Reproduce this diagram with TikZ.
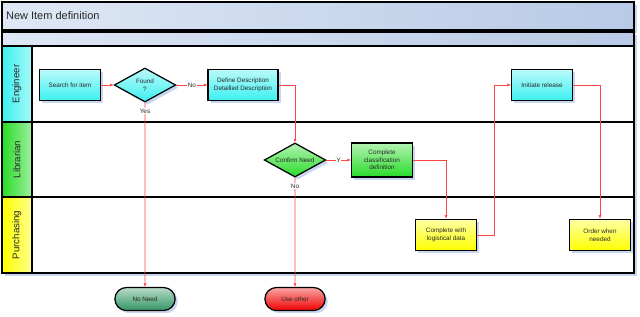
\documentclass[tikz,border=0pt]{standalone}
\usepackage{fontspec}
\setmainfont{Liberation Sans}
\usetikzlibrary{arrows.meta,shapes.geometric,shapes.misc,shadows}
\definecolor{barlight}{RGB}{222,231,245}
\definecolor{bardark}{RGB}{184,202,230}
\definecolor{shadowblue}{RGB}{200,214,238}
\definecolor{boxcyan}{RGB}{60,240,240}
\definecolor{boxgreen}{RGB}{40,220,40}
\definecolor{boxyellow}{RGB}{255,255,0}
\definecolor{endgreen}{RGB}{50,150,100}
\definecolor{endred}{RGB}{240,0,0}
\definecolor{flowred}{RGB}{255,70,70}
\definecolor{txt}{RGB}{40,40,40}

\begin{document}
\begin{tikzpicture}[x=0.04cm,y=-0.04cm]

    \tikzset{
      blueshadow/.style={drop shadow={fill=shadowblue,opacity=1,shadow xshift=3pt,shadow yshift=-3pt}},
      lane/.style={draw=black,line width=1.6pt,fill=white,blueshadow},
      bar/.style={draw=black,line width=1.6pt,left color=barlight,right color=bardark,blueshadow},
      head/.style={draw=black,line width=1.6pt,left color=#1,right color=#1!45!white},
      lanelabel/.style={rotate=90,text=txt,font=\fontsize{11}{12}\selectfont},
      task/.style={
        draw=black,
        line width=1.4pt,
        rectangle,
        minimum width=2.44cm,
        minimum height=1.26cm,
        inner sep=1pt,
        align=center,
        text=txt,
        font=\fontsize{7.2}{8.7}\selectfont,
        top color=#1!35!white,
        bottom color=#1,
        blueshadow,
      },
      decision/.style={
        draw=black,
        line width=1.4pt,
        diamond,
        shape aspect=2,
        minimum width=2.46cm,
        minimum height=1.36cm,
        inner sep=0pt,
        align=center,
        text=txt,
        font=\fontsize{7.2}{8.7}\selectfont,
        top color=#1!35!white,
        bottom color=#1,
        blueshadow,
      },
      terminal/.style={
        draw=black,
        line width=1.4pt,
        rounded rectangle,
        minimum width=2.48cm,
        minimum height=0.92cm,
        inner sep=1pt,
        text=txt,
        font=\fontsize{7.2}{8.7}\selectfont,
        top color=#1!35!white,
        bottom color=#1,
        blueshadow,
      },
      flow/.style={draw=flowred,line width=0.6pt,-{Latex[length=4pt,width=3.5pt]}},
      lbl/.style={fill=white,inner sep=0.8pt,text=txt,font=\fontsize{7.2}{8}\selectfont},
    }
    \useasboundingbox (0,0) rectangle (640,316);

    % pool and lanes
    \draw[bar] (2,2) rectangle (634,30);
    \node[anchor=west,text=txt,font=\fontsize{12.5}{14}\selectfont] (title) at (3,16) {New Item definition};
    \draw[bar] (2,32) rectangle (634,46);
    \draw[lane] (2,46) rectangle (634,122);
    \draw[lane] (2,122) rectangle (634,197);
    \draw[lane] (2,197) rectangle (634,273);
    \draw[head=boxcyan] (2,46) rectangle (32,122);
    \draw[head=boxgreen] (2,122) rectangle (32,197);
    \draw[head=boxyellow] (2,197) rectangle (32,273);
    \node[lanelabel] (engineer) at (17,84) {Engineer};
    \node[lanelabel] (librarian) at (17,159.5) {Librarian};
    \node[lanelabel] (purchasing) at (17,235) {Purchasing};

    % steps
    \node[task=boxcyan] (search) at (70,85) {Search for item};
    \node[decision=boxcyan] (found) at (145,85) {Found\\?};
    \node[task=boxcyan,minimum width=2.8cm] (define) at (243,85) {Define Description\\Detailled Description};
    \node[task=boxcyan] (initiate) at (542,85) {Initiate release};
    \node[decision=boxgreen] (confirm) at (295,160) {Confirm Need};
    \node[task=boxgreen,minimum height=1.36cm] (classif) at (382,160) {Complete\\classification\\definition};
    \node[task=boxyellow] (logist) at (446,235) {Complete with\\logistical data};
    \node[task=boxyellow] (order) at (600,235) {Order when\\needed};
    \node[terminal=endgreen] (noneed) at (145,299) {No Need};
    \node[terminal=endred] (useother) at (295,299) {Use other};
    \coordinate (bend) at (494,235);

    % connectors
    \draw[flow] (search) -- (found);
    \draw[flow] (found) -- node[lbl]{No} (define);
    \draw[flow] (found) -- node[lbl,pos=0.045]{Yes} (noneed);
    \draw[flow] (define) -| (confirm);
    \draw[flow] (confirm) -- node[lbl]{Y} (classif);
    \draw[flow] (confirm) -- node[lbl,pos=0.08]{No} (useother);
    \draw[flow] (classif) -| (logist);
    \draw[flow] (logist) -- (bend) |- (initiate);
    \draw[flow] (initiate) -| (order);

\end{tikzpicture}
\end{document}
